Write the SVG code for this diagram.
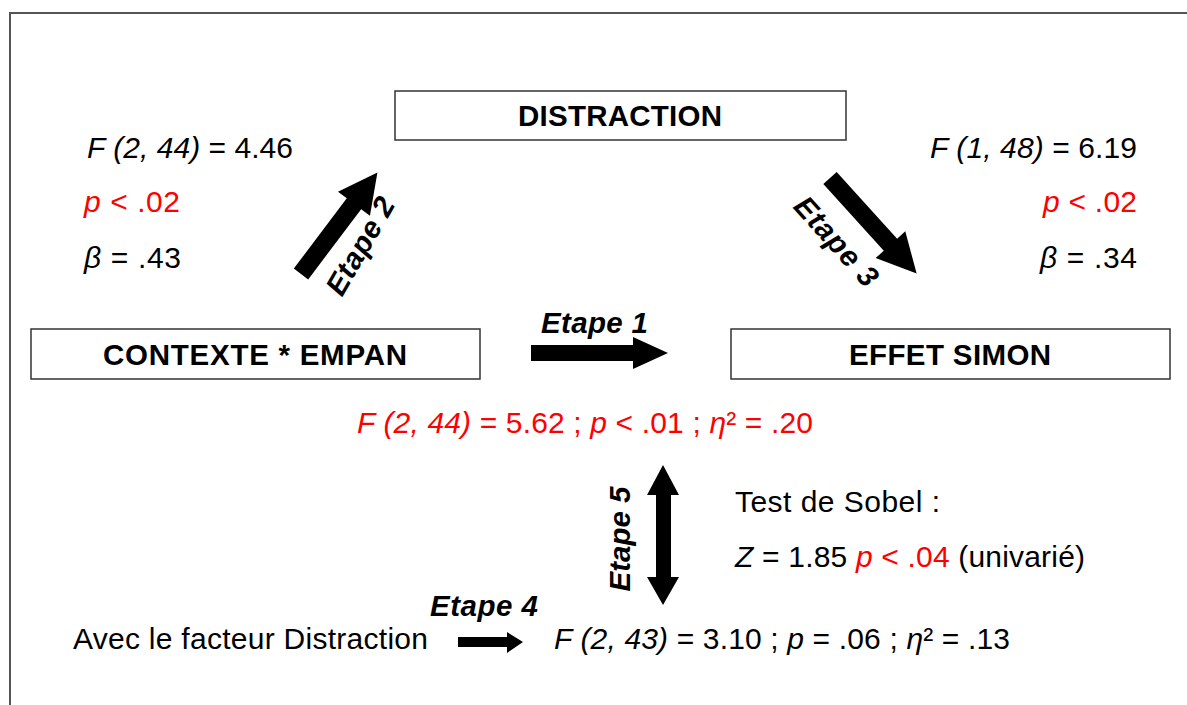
<svg xmlns="http://www.w3.org/2000/svg" width="1187" height="705" viewBox="0 0 1187 705">
  <style>
    text { font-family: "Liberation Sans", Arial, sans-serif; font-size: 30px; fill: #000; }
    .box { fill: #fff; stroke: #333; stroke-width: 1.5; }
    .title { font-weight: bold; text-anchor: middle; font-size: 29.5px; }
    .step { font-weight: bold; font-style: italic; font-size: 29.5px; }
    .red { fill: #ff0000; }
    .it { font-style: italic; }
    .arrow { fill: #000; }
  </style>

  <!-- outer frame -->
  <rect x="10" y="13" width="1200" height="720" fill="#fff" stroke="#555" stroke-width="2"/>

  <g id="node-distraction">
    <rect class="box" x="395" y="91" width="451" height="49"/>
    <text class="title" x="620" y="126" textLength="204" lengthAdjust="spacing">DISTRACTION</text>
  </g>

  <g id="node-contexte">
    <rect class="box" x="31" y="329" width="449" height="50"/>
    <text class="title" x="255" y="365" textLength="304" lengthAdjust="spacing">CONTEXTE * EMPAN</text>
  </g>

  <g id="node-effet">
    <rect class="box" x="731" y="329" width="439" height="50"/>
    <text class="title" x="950" y="365" textLength="202" lengthAdjust="spacing">EFFET SIMON</text>
  </g>

  <g id="connectors">
    <!-- Etape 1 -->
    <polygon class="arrow" points="531,345 633,345 633,337 668,353 633,369 633,361 531,361"/>
    <!-- Etape 2 -->
    <polygon class="arrow" transform="translate(301,274) rotate(-53)" points="0,-9 88,-9 88,-20 127,0 88,20 88,9 0,9"/>
    <!-- Etape 3 -->
    <polygon class="arrow" transform="translate(830,178) rotate(47.8)" points="0,-9 90,-9 90,-20 129,0 90,20 90,9 0,9"/>
    <!-- Etape 4 -->
    <polygon class="arrow" points="458,637 507,637 507,632 523,642 507,653 507,647 458,647"/>
    <!-- Etape 5 -->
    <polygon class="arrow" points="663,465 679,495 671,495 671,577 679,577 663,605 647,577 656,577 656,495 647,495"/>
  </g>

  <g id="labels-steps">
    <text class="step" x="541" y="333" textLength="107" lengthAdjust="spacing">Etape 1</text>
    <text class="step" transform="translate(369,251) rotate(-60)" text-anchor="middle" textLength="108" lengthAdjust="spacing">Etape 2</text>
    <text class="step" transform="translate(829,248) rotate(48)" text-anchor="middle" textLength="110" lengthAdjust="spacing">Etape 3</text>
    <text class="step" x="430" y="616" textLength="108" lengthAdjust="spacing">Etape 4</text>
    <text class="step" transform="translate(630,539) rotate(-90)" text-anchor="middle" textLength="105" lengthAdjust="spacing">Etape 5</text>
  </g>

  <g id="stats-left">
    <text x="87" y="158" textLength="206" lengthAdjust="spacing"><tspan class="it">F (2, 44)</tspan> = 4.46</text>
    <text x="84" y="212" class="red" textLength="96" lengthAdjust="spacing"><tspan class="it">p</tspan> &lt; .02</text>
    <text x="84" y="268" textLength="97" lengthAdjust="spacing"><tspan class="it">β</tspan> = .43</text>
  </g>

  <g id="stats-right">
    <text x="1137" y="158" text-anchor="end" textLength="207" lengthAdjust="spacing"><tspan class="it">F (1, 48)</tspan> = 6.19</text>
    <text x="1137" y="212" text-anchor="end" class="red" textLength="94" lengthAdjust="spacing"><tspan class="it">p</tspan> &lt; .02</text>
    <text x="1137" y="268" text-anchor="end" textLength="97" lengthAdjust="spacing"><tspan class="it">β</tspan> = .34</text>
  </g>

  <g id="stats-total">
    <text x="357" y="433" class="red" textLength="456" lengthAdjust="spacing"><tspan class="it">F (2, 44)</tspan> = 5.62 ; <tspan class="it">p</tspan> &lt; .01 ; <tspan class="it">η</tspan>² = .20</text>
  </g>

  <g id="sobel">
    <text x="735" y="512" textLength="205" lengthAdjust="spacing">Test de Sobel :</text>
    <text x="735" y="567" textLength="350" lengthAdjust="spacing"><tspan class="it">Z</tspan> = 1.85 <tspan class="red"><tspan class="it">p</tspan> &lt; .04</tspan> (univarié)</text>
  </g>

  <g id="stats-distraction">
    <text x="73" y="649" textLength="355" lengthAdjust="spacing">Avec le facteur Distraction</text>
    <text x="554" y="649" textLength="456" lengthAdjust="spacing"><tspan class="it">F (2, 43)</tspan> = 3.10 ; <tspan class="it">p</tspan> = .06 ; <tspan class="it">η</tspan>² = .13</text>
  </g>
</svg>
